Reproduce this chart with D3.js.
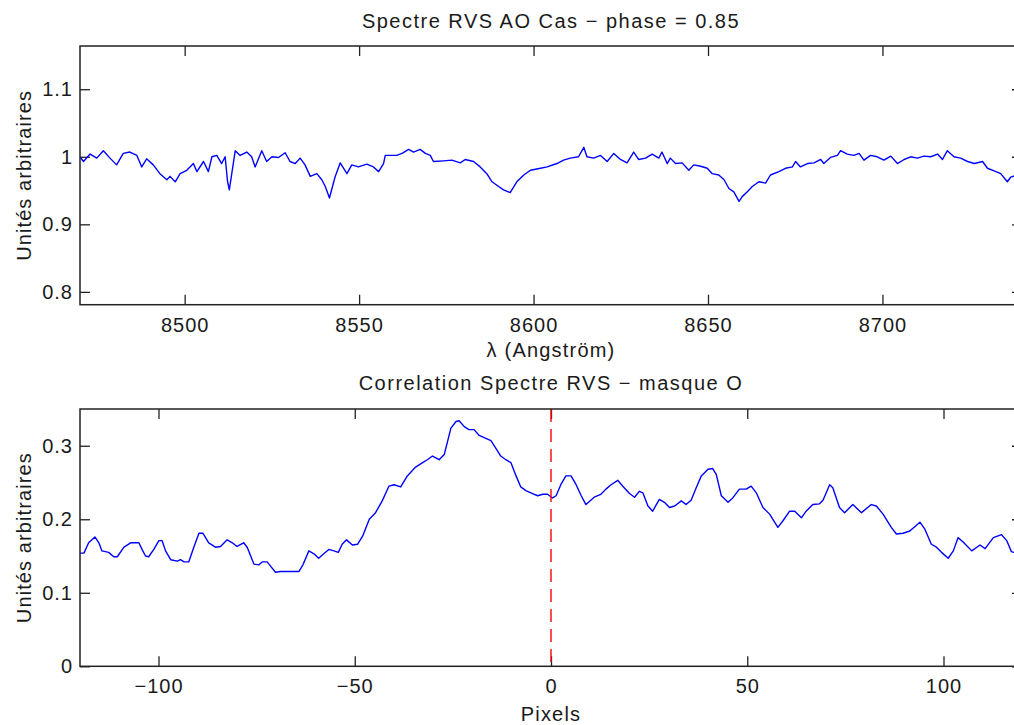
<!DOCTYPE html>
<html>
<head>
<meta charset="utf-8">
<script src="https://cdn.jsdelivr.net/npm/d3@7"></script>
<style>
  body { margin: 0; background: #fff; }
  text { font-family: "Liberation Sans", Arial, sans-serif; fill: #1a1a1a; }
</style>
</head>
<body>
<script>
// spectre RVS : longueur d'onde (A) / flux normalise
var specLambda = [8470.0, 8471.0, 8472.9, 8474.8, 8476.7, 8478.6, 8480.5, 8482.4, 8484.3, 8486.3, 8487.7, 8489.1, 8491.0, 8492.9, 8494.9, 8495.8, 8497.3, 8498.7, 8500.6, 8502.5, 8503.5, 8505.4, 8506.8, 8507.8, 8509.2, 8510.6, 8511.6, 8512.3, 8512.8, 8513.5, 8514.5, 8515.9, 8517.8, 8519.2, 8520.2, 8522.1, 8523.5, 8525.0, 8526.9, 8528.8, 8530.2, 8531.7, 8533.1, 8534.5, 8536.0, 8537.9, 8539.3, 8540.3, 8541.5,
  8543.1, 8544.6, 8546.5, 8547.9, 8549.8, 8552.2, 8554.1, 8555.6, 8557.0, 8557.5, 8560.8, 8562.3, 8564.2, 8565.6, 8567.5, 8569.0, 8570.4, 8571.3, 8574.2, 8576.6, 8579.0, 8580.4, 8582.8, 8584.7, 8586.6, 8588.1, 8590.0, 8591.4, 8593.3, 8595.2, 8597.2, 8599.1, 8602.0, 8603.9, 8606.7, 8608.6, 8610.5, 8612.9, 8614.4, 8615.3, 8617.2, 8619.2, 8621.1, 8623.0, 8624.9, 8626.8, 8628.7, 8630.1, 8632.1, 8634.0, 8635.9, 8636.8, 8638.3, 8639.2,
  8640.7, 8642.6, 8644.5, 8645.9, 8647.9, 8649.8, 8651.2, 8653.1, 8654.6, 8656.0, 8657.4, 8658.9, 8659.8, 8661.2, 8662.7, 8664.6, 8666.5, 8667.9, 8670.3, 8672.2, 8674.2, 8675.1, 8676.5, 8678.5, 8680.4, 8682.3, 8683.2, 8685.1, 8687.1, 8688.0, 8689.9, 8691.8, 8693.3, 8694.7, 8696.6, 8698.5, 8700.4, 8702.4, 8704.3, 8706.2, 8708.1, 8710.0, 8711.9, 8713.8, 8715.8, 8717.2, 8718.6, 8720.5, 8722.4, 8724.4, 8726.3, 8728.7, 8730.1, 8732.0, 8733.9, 8735.8, 8736.8, 8737.9, 8740.0];
var specFlux = [1.000, 0.993, 1.004, 0.998, 1.009, 0.998, 0.988, 1.005, 1.007, 1.002, 0.985, 0.997, 0.988, 0.975, 0.966, 0.971, 0.963, 0.975, 0.980, 0.990, 0.978, 0.993, 0.978, 1.000, 1.002, 0.990, 1.000, 0.963, 0.951, 0.975, 1.009, 1.002, 1.007, 1.000, 0.985, 1.009, 0.993, 1.000, 0.999, 1.006, 0.993, 0.990, 0.998, 0.988, 0.971, 0.975, 0.966, 0.956, 0.939,
  0.970, 0.991, 0.975, 0.988, 0.985, 0.989, 0.985, 0.978, 0.990, 1.002, 1.002, 1.005, 1.011, 1.007, 1.011, 1.005, 1.002, 0.993, 0.994, 0.995, 0.991, 0.996, 0.993, 0.985, 0.975, 0.963, 0.956, 0.951, 0.947, 0.963, 0.973, 0.980, 0.983, 0.985, 0.990, 0.995, 0.998, 1.000, 1.014, 1.000, 0.998, 1.002, 0.993, 1.005, 0.996, 0.991, 1.007, 0.996, 0.998, 1.004, 0.998, 1.007, 0.990, 0.998,
  0.990, 0.991, 0.980, 0.988, 0.986, 0.983, 0.975, 0.973, 0.966, 0.953, 0.948, 0.934, 0.941, 0.948, 0.956, 0.963, 0.961, 0.973, 0.978, 0.983, 0.985, 0.993, 0.985, 0.990, 0.991, 0.996, 0.990, 0.999, 1.002, 1.009, 1.004, 1.002, 1.005, 0.995, 1.002, 1.000, 0.995, 1.001, 0.990, 0.996, 1.000, 0.998, 1.001, 1.000, 1.004, 0.996, 1.009, 1.000, 0.998, 0.993, 0.990, 0.993, 0.983, 0.979, 0.975, 0.963, 0.970, 0.972, 0.970];

// correlation spectre / masque : decalage (pixels) / valeur
var corrLag = [-120, -119.0, -117.8, -116.2, -115.2, -114.4, -112.7, -111.4, -110.5, -108.8, -107.1, -105.0, -104.2, -103.3, -102.5, -101.2, -99.9, -99.1, -98.2, -96.9, -95.2, -94.4, -93.5, -92.3, -91.0, -89.7, -88.7, -87.2, -85.5, -84.2, -82.5, -81.2, -80.0, -78.3, -77.4, -75.7, -74.4, -73.6, -72.3, -71.4, -70.2, -68.9, -66.8, -64.2, -63.2, -61.7, -60.4, -59.2, -57.9, -56.6, -55.3, -54.2, -53.2, -52.1, -50.6, -49.3, -48.0, -46.3, -44.7, -43.0, -41.3, -40.0, -38.3, -36.6, -34.5, -32.7, -31.5, -30.2, -28.5, -27.2, -25.5, -24.2, -23.4, -22.1, -20.9, -19.6, -18.3, -16.6, -15.3, -14.0, -12.8, -11.5, -10.2, -8.9, -7.7, -6.4, -4.7, -3.4, -2.1, -0.9, 0.4, 1.3, 2.5, 3.8, 5.1, 6.4, 7.7, 8.9, 11.0, 12.7, 14.0, 15.3, 17.0, 18.3, 20.0, 21.3, 22.5, 23.4, 24.7, 25.9, 27.6, 28.9, 30.2, 31.5, 33.2, 34.4, 35.7, 37.0, 38.3, 40.0, 41.2, 42.1, 43.4, 45.1, 46.3, 48.0, 49.7, 51.0, 52.3, 54.0, 55.7, 57.8, 59.1, 60.8, 62.1, 63.8, 65.0, 66.7, 68.4, 69.3, 71.0, 71.8, 73.5, 74.8, 76.9, 79.1, 81.6, 82.9, 84.6, 86.7, 88.0, 89.7, 91.4, 94.0, 95.2, 96.9, 98.2, 99.5, 101.2, 102.5, 103.7, 105.0, 107.2, 109.3, 110.6, 112.7, 114.8, 116.1, 117.3, 117.9, 120];
var corrVal = [0.154, 0.154, 0.168, 0.176, 0.168, 0.157, 0.155, 0.149, 0.149, 0.162, 0.168, 0.168, 0.159, 0.150, 0.149, 0.159, 0.171, 0.171, 0.157, 0.145, 0.143, 0.145, 0.142, 0.142, 0.162, 0.181, 0.181, 0.168, 0.162, 0.163, 0.172, 0.168, 0.163, 0.168, 0.162, 0.139, 0.138, 0.142, 0.142, 0.136, 0.128, 0.129, 0.129, 0.129, 0.138, 0.157, 0.153, 0.147, 0.153, 0.159, 0.157, 0.155, 0.166, 0.172, 0.165, 0.166, 0.177, 0.200, 0.209, 0.225, 0.245, 0.247, 0.244, 0.259, 0.271, 0.277, 0.281, 0.286, 0.281, 0.288, 0.324, 0.333, 0.334, 0.326, 0.322, 0.322, 0.314, 0.310, 0.307, 0.296, 0.286, 0.281, 0.277, 0.259, 0.244, 0.239, 0.235, 0.232, 0.234, 0.234, 0.229, 0.232, 0.247, 0.259, 0.259, 0.247, 0.232, 0.220, 0.230, 0.234, 0.241, 0.247, 0.253, 0.245, 0.235, 0.230, 0.238, 0.236, 0.218, 0.211, 0.227, 0.223, 0.216, 0.218, 0.225, 0.220, 0.226, 0.243, 0.259, 0.268, 0.269, 0.261, 0.232, 0.223, 0.229, 0.241, 0.241, 0.245, 0.236, 0.216, 0.207, 0.189, 0.198, 0.211, 0.211, 0.202, 0.211, 0.220, 0.221, 0.226, 0.247, 0.243, 0.216, 0.209, 0.220, 0.209, 0.220, 0.218, 0.207, 0.189, 0.180, 0.181, 0.184, 0.196, 0.187, 0.166, 0.162, 0.155, 0.147, 0.157, 0.175, 0.169, 0.157, 0.165, 0.160, 0.175, 0.179, 0.171, 0.156, 0.155, 0.156];

var specXTicks = [8500, 8550, 8600, 8650, 8700];
var specYTicks = [0.8, 0.9, 1, 1.1];
var corrXTicks = [-100, -50, 0, 50, 100];
var corrYTicks = [0, 0.1, 0.2, 0.3];
var corrMarker = [0];

var W = 1014, H = 725;
var fontSize = 20;

var svg = d3.select("body").append("svg").attr("width", W).attr("height", H);
svg.append("rect").attr("width", W).attr("height", H).attr("fill", "#fff");

// trace un cadre d'axes facon matlab (ticks vers l'interieur, boite complete)
function panel(p) {
    var x = d3.scaleLinear().domain(p.xDomain).range([p.left, p.right]);
    var y = d3.scaleLinear().domain(p.yDomain).range([p.bottom, p.top]);
    var g = svg.append("g");

    var clipId = "clip" + p.id;
    svg.append("clipPath").attr("id", clipId).append("rect")
        .attr("x", p.left).attr("y", p.top).attr("width", p.right - p.left).attr("height", p.bottom - p.top);

    // ticks bas + labels
    g.append("g").attr("transform", "translate(0," + p.bottom + ")")
        .call(d3.axisBottom(x).tickValues(p.xTicks).tickSize(-10).tickPadding(13).tickFormat(d3.format("")))
        .call(styleAxis);
    // ticks haut
    g.append("g").attr("transform", "translate(0," + p.top + ")")
        .call(d3.axisTop(x).tickValues(p.xTicks).tickSize(-10).tickFormat(""))
        .call(styleAxis);
    // ticks gauche + labels
    g.append("g").attr("transform", "translate(" + p.left + ",0)")
        .call(d3.axisLeft(y).tickValues(p.yTicks).tickSize(-10).tickPadding(7).tickFormat(d3.format("")))
        .call(styleAxis);
    // ticks droite
    g.append("g").attr("transform", "translate(" + p.right + ",0)")
        .call(d3.axisRight(y).tickValues(p.yTicks).tickSize(-10).tickFormat(""))
        .call(styleAxis);

    // courbe
    var line = d3.line().x(function (d) { return x(d[0]); }).y(function (d) { return y(d[1]); });
    var pts = p.xs.map(function (v, i) { return [v, p.ys[i]]; });
    g.append("path").attr("d", line(pts)).attr("fill", "none")
        .attr("stroke", "#0000ff").attr("stroke-width", 1.4)
        .attr("stroke-linejoin", "round").attr("clip-path", "url(#" + clipId + ")");

    if (p.marker) {
        g.selectAll(".marker").data(p.marker).enter().append("line")
            .attr("x1", x).attr("x2", x).attr("y1", p.top).attr("y2", p.bottom)
            .attr("stroke", "#ff0000").attr("stroke-width", 1.4).attr("stroke-dasharray", "13,7");
    }

    // boite
    g.append("rect").attr("x", p.left).attr("y", p.top)
        .attr("width", p.right - p.left).attr("height", p.bottom - p.top)
        .attr("fill", "none").attr("stroke", "#222").attr("stroke-width", 1.5);

    // titre
    svg.append("text").attr("x", (p.left + p.right) / 2).attr("y", p.titleY)
        .attr("text-anchor", "middle").attr("font-size", fontSize).attr("letter-spacing", 1.5)
        .text(p.title);
    svg.append("text").attr("x", (p.left + p.right) / 2).attr("y", p.xLabelY)
        .attr("text-anchor", "middle").attr("font-size", fontSize).attr("letter-spacing", 1.2)
        .text(p.xLabel);
    svg.append("text").attr("transform", "translate(31," + (p.top + p.bottom) / 2 + ") rotate(-90)")
        .attr("text-anchor", "middle").attr("font-size", fontSize).attr("letter-spacing", 1.1)
        .text(p.yLabel);
}

function styleAxis(sel) {
    sel.select(".domain").remove();
    sel.selectAll(".tick line").attr("stroke", "#222").attr("stroke-width", 1.3);
    sel.selectAll(".tick text").attr("font-size", fontSize).attr("letter-spacing", 1)
        .attr("fill", "#1a1a1a").attr("font-family", "Liberation Sans, Arial, sans-serif");
}

panel({
    id: 1, left: 80, right: 1022, top: 46, bottom: 304.7,
    xDomain: [8470, 8740], yDomain: [0.781, 1.164],
    xTicks: specXTicks, yTicks: specYTicks,
    xs: specLambda, ys: specFlux,
    title: "Spectre RVS AO Cas \u2212 phase = 0.85", titleY: 28,
    xLabel: "\u03bb (Angstr\u00f6m)", xLabelY: 357,
    yLabel: "Unit\u00e9s arbitraires"
});

panel({
    id: 2, left: 80, right: 1022, top: 409, bottom: 666.3,
    xDomain: [-120, 120], yDomain: [0, 0.35],
    xTicks: corrXTicks, yTicks: corrYTicks,
    xs: corrLag, ys: corrVal, marker: corrMarker,
    title: "Correlation Spectre RVS \u2212 masque O", titleY: 390,
    xLabel: "Pixels", xLabelY: 721,
    yLabel: "Unit\u00e9s arbitraires"
});
</script>
</body>
</html>
